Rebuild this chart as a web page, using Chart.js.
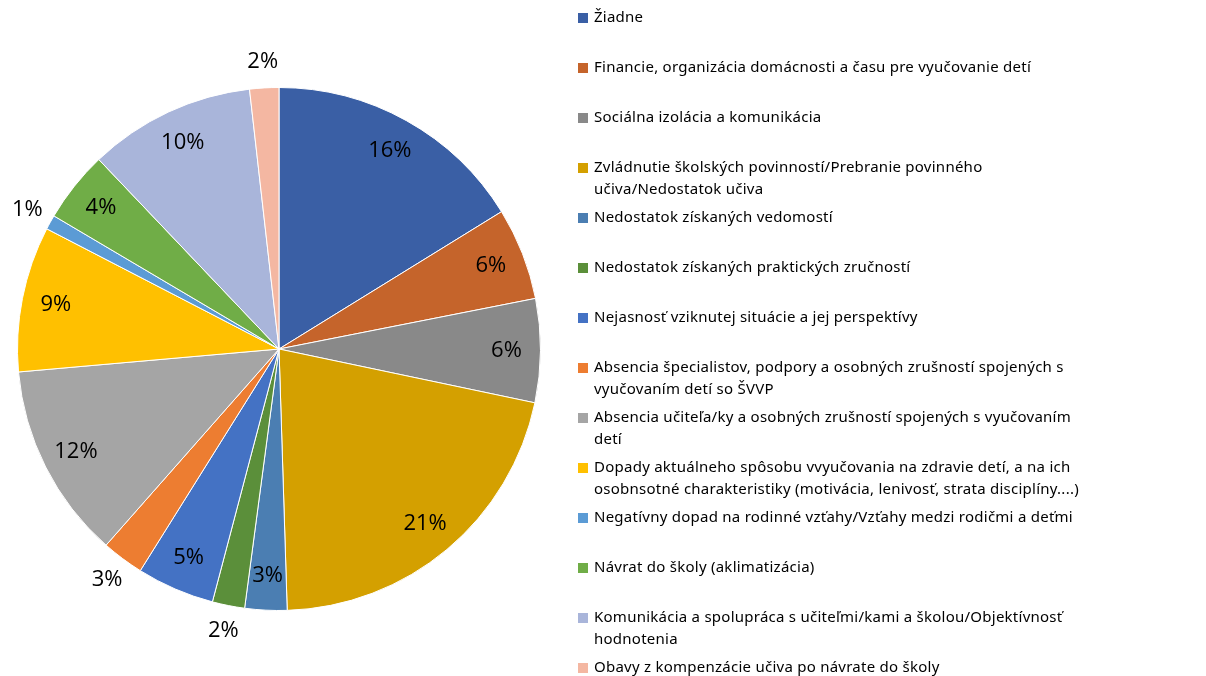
<!DOCTYPE html>
<html>
<head>
<meta charset="utf-8">
<script src="https://cdn.jsdelivr.net/npm/chart.js@4"></script>
<style>
  html, body { margin: 0; padding: 0; background: #fff; }
  #wrap { width: 1206px; height: 676px; }
</style>
</head>
<body>
<div id="wrap"><canvas id="chart1"></canvas></div>
<script>
// Categories (legend lines as in the reference)
const categories = [
    ['Žiadne'],
    ['Financie, organizácia domácnosti a času pre vyučovanie detí'],
    ['Sociálna izolácia a komunikácia'],
    ['Zvládnutie školských povinností/Prebranie povinného', 'učiva/Nedostatok učiva'],
    ['Nedostatok získaných vedomostí'],
    ['Nedostatok získaných praktických zručností'],
    ['Nejasnosť vziknutej situácie a jej perspektívy'],
    ['Absencia špecialistov, podpory a osobných zrušností spojených s', 'vyučovaním detí so ŠVVP'],
    ['Absencia učiteľa/ky a osobných zrušností spojených s vyučovaním', 'detí'],
    ['Dopady aktuálneho spôsobu vvyučovania na zdravie detí, a na ich', 'osobnsotné charakteristiky (motivácia, lenivosť, strata disciplíny....)'],
    ['Negatívny dopad na rodinné vzťahy/Vzťahy medzi rodičmi a deťmi'],
    ['Návrat do školy (aklimatizácia)'],
    ['Komunikácia a spolupráca s učiteľmi/kami a školou/Objektívnosť', 'hodnotenia'],
    ['Obavy z kompenzácie učiva po návrate do školy']
];

// Shares in percent
const values = [16.2, 5.7, 6.4, 21.2, 2.6, 2.0, 4.8, 2.6, 12.1, 9.0, 0.9, 4.4, 10.3, 1.8];

const colors = [
    '#3A5FA5', '#C5642B', '#898989', '#D4A000', '#4B7EB2', '#5B8F3A', '#4472C4',
    '#ED7D31', '#A5A5A5', '#FFC000', '#5B9BD5', '#70AD47', '#A9B5DA', '#F4B7A2'
];

// slices whose percent label sits outside the pie
const outside = [5, 7, 10, 13];

const pctLabels = {
    id: 'pctLabels',
    afterDatasetsDraw(chart) {
        const ctx = chart.ctx;
        const meta = chart.getDatasetMeta(0);
        const total = values.reduce((a, b) => a + b, 0);
        ctx.save();
        ctx.font = '22px "Open Sans"';
        ctx.fillStyle = '#000';
        ctx.textAlign = 'center';
        ctx.textBaseline = 'middle';
        meta.data.forEach((arc, i) => {
            const p = arc.getProps(['x', 'y', 'startAngle', 'endAngle', 'outerRadius'], true);
            const mid = (p.startAngle + p.endAngle) / 2;
            const r = p.outerRadius * (outside.includes(i) ? 1.1 : 0.87);
            ctx.fillText(Math.round(values[i] / total * 100) + '%', p.x + Math.cos(mid) * r, p.y + Math.sin(mid) * r);
        });
        ctx.restore();
    }
};

const sideLegend = {
    id: 'sideLegend',
    afterDraw(chart) {
        const ctx = chart.ctx;
        ctx.save();
        ctx.font = '15px "Noto Sans"';
        ctx.letterSpacing = '0.25px';
        ctx.textBaseline = 'middle';
        ctx.textAlign = 'left';
        categories.forEach((lines, i) => {
            const y = 18 + i * 50;
            ctx.fillStyle = colors[i];
            ctx.fillRect(578, y - 5, 10, 10);
            ctx.fillStyle = '#000';
            lines.forEach((t, j) => ctx.fillText(t, 594, y + j * 22));
        });
        ctx.restore();
    }
};

const ctx1 = document.getElementById('chart1').getContext('2d');
new Chart(ctx1, {
    type: 'pie',
    data: {
        labels: categories,
        datasets: [{
            data: values,
            backgroundColor: colors,
            borderColor: '#fff',
            borderWidth: 1
        }]
    },
    options: {
        responsive: true,
        maintainAspectRatio: false,
        animation: false,
        layout: { padding: { left: 17, top: 87, bottom: 65, right: 665 } },
        plugins: {
            legend: { display: false },
            tooltip: { enabled: false }
        }
    },
    plugins: [pctLabels, sideLegend]
});
</script>
</body>
</html>
